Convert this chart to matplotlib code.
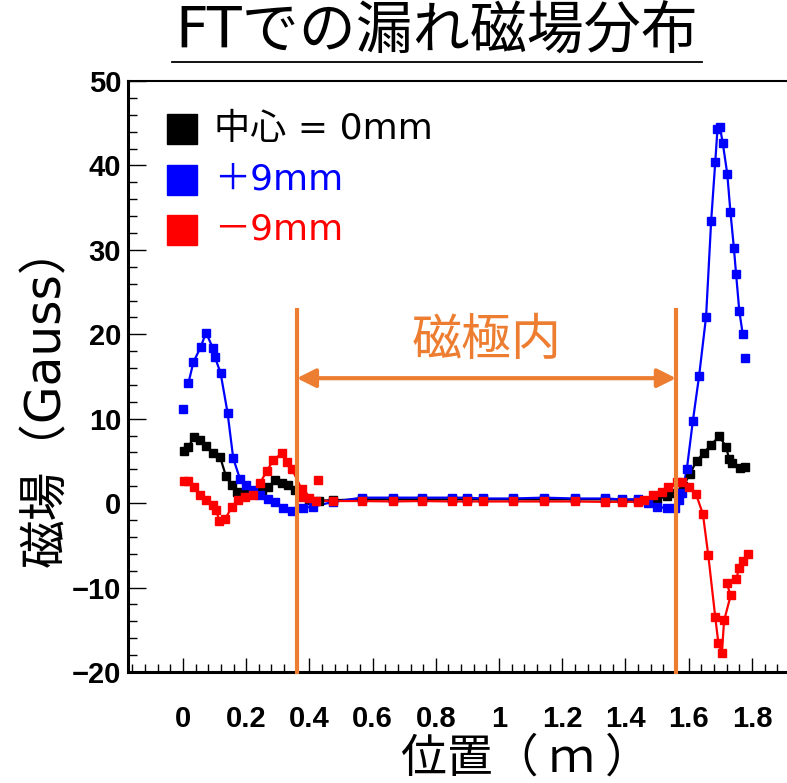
import matplotlib
matplotlib.use("Agg")
import matplotlib.pyplot as plt
from matplotlib.ticker import MultipleLocator, FixedLocator

plt.rcParams['font.family'] = ['Noto Sans CJK JP', 'DejaVu Sans']
WIDE = ['DejaVu Sans', 'Noto Sans CJK JP']

# measured field (Gauss) vs position (m)
center_x = [0.003, 0.017, 0.035, 0.054, 0.073, 0.094, 0.117, 0.136, 0.154, 0.170,
            0.190, 0.210, 0.230, 0.250, 0.270, 0.291, 0.312, 0.333, 0.354, 0.375,
            0.400, 0.430, 0.476, 0.565, 0.663, 0.755, 0.850, 0.898, 0.948, 1.043,
            1.142, 1.240, 1.336, 1.388, 1.439, 1.470, 1.500, 1.530, 1.555, 1.583,
            1.604, 1.625, 1.647, 1.670, 1.697, 1.718, 1.728, 1.736, 1.763, 1.778]
center_y = [6.2, 6.7, 7.8, 7.5, 6.8, 5.9, 5.5, 3.2, 2.1, 1.3,
            1.2, 1.2, 1.3, 1.5, 1.9, 2.7, 2.4, 2.1, 1.5, 0.8,
            0.4, 0.3, 0.35, 0.45, 0.45, 0.45, 0.45, 0.45, 0.45, 0.45,
            0.45, 0.45, 0.45, 0.4, 0.4, 0.3, 0.5, 0.8, 1.2, 2.0,
            3.5, 5.0, 5.9, 6.9, 7.9, 6.7, 5.2, 4.7, 4.2, 4.3]

plus_x = [0.017, 0.033, 0.056, 0.073, 0.094, 0.101, 0.119, 0.141, 0.159, 0.180,
          0.200, 0.222, 0.245, 0.270, 0.290, 0.317, 0.344, 0.380, 0.410, 0.476,
          0.565, 0.663, 0.755, 0.850, 0.898, 0.948, 1.043, 1.142, 1.240, 1.336,
          1.388, 1.439, 1.470, 1.500, 1.530, 1.556, 1.570, 1.578, 1.594, 1.613,
          1.633, 1.655, 1.671, 1.684, 1.691, 1.699, 1.708, 1.722, 1.732, 1.743,
          1.750, 1.760, 1.771]
plus_y = [14.2, 16.7, 18.5, 20.2, 18.4, 17.3, 15.4, 10.7, 5.3, 2.9,
          2.1, 1.5, 1.0, 0.5, 0.15, -0.6, -0.9, -0.6, -0.4, 0.15,
          0.65, 0.65, 0.65, 0.65, 0.65, 0.55, 0.55, 0.65, 0.55, 0.55,
          0.45, 0.45, 0.0, -0.4, -0.6, -0.6, 0.36, 1.15, 4.0, 9.7,
          15.1, 22.1, 33.4, 40.4, 44.3, 44.5, 42.6, 39.0, 34.5, 30.2,
          27.1, 22.8, 20.0]
plus_extra_x = [0.001, 1.778]
plus_extra_y = [11.2, 17.2]

minus_x = [0.003, 0.017, 0.035, 0.054, 0.073, 0.094, 0.105, 0.115, 0.133, 0.154,
           0.175, 0.196, 0.220, 0.244, 0.265, 0.286, 0.312, 0.328, 0.344, 0.375,
           0.380, 0.400, 0.420, 0.476, 0.565, 0.663, 0.755, 0.850, 0.898, 0.948,
           1.043, 1.142, 1.240, 1.336, 1.388, 1.439, 1.457, 1.488, 1.515, 1.536,
           1.562, 1.578, 1.600, 1.623, 1.645, 1.662, 1.684, 1.694, 1.705, 1.712,
           1.733, 1.720, 1.750, 1.760, 1.773, 1.789]
minus_y = [2.6, 2.6, 1.9, 0.95, 0.36, -0.24, -0.83, -2.1, -1.9, -0.5,
           0.36, 0.67, 0.95, 2.4, 3.8, 5.1, 5.9, 4.9, 4.1, 1.7,
           0.75, 0.55, 0.3, 0.25, 0.25, 0.2, 0.25, 0.2, 0.2, 0.2,
           0.2, 0.2, 0.2, 0.15, 0.15, 0.15, 0.36, 0.95, 1.3, 1.9,
           2.5, 2.5, 1.9, 1.07, -1.3, -6.2, -13.5, -16.6, -17.7, -13.9,
           -10.9, -9.5, -9.0, -7.7, -6.9, -6.0]
minus_extra_x = [0.428]
minus_extra_y = [2.8]

pole_edges = [0.36, 1.56]

legend_labels = ['中心 = 0mm', '＋9mm', '－9mm']
legend_colors = ['black', '#0000FF', '#FF0000']

x_ticks = [0, 0.2, 0.4, 0.6, 0.8, 1.0, 1.2, 1.4, 1.6, 1.8]
x_tick_labels = ['0', '0.2', '0.4', '0.6', '0.8', '1', '1.2', '1.4', '1.6', '1.8']
y_ticks = [-20, -10, 0, 10, 20, 30, 40, 50]
y_tick_labels = ['\u221220', '\u221210', '0', '10', '20', '30', '40', '50']

W, H = 787, 783
ORANGE = '#ED7D31'

fig = plt.figure(figsize=(W / 100, H / 100), dpi=100)
ax = fig.add_axes([128 / W, 1 - 672 / H, 1 - 128 / W, (672 - 81) / H])
ax.set_xlim(-0.174, 1.911)
ax.set_ylim(-20, 50)

series = [(center_x, center_y, 'black'),
          (plus_x, plus_y, '#0000FF'),
          (minus_x, minus_y, '#FF0000')]
for xs, ys, c in series:
    ax.plot(xs, ys, '-', color=c, lw=1.6, zorder=3)
    ax.plot(xs, ys, 's', color=c, ms=6, mec=c, zorder=4)
ax.plot(plus_extra_x, plus_extra_y, 's', color='#0000FF', ms=6, zorder=4)
ax.plot(minus_extra_x, minus_extra_y, 's', color='#FF0000', ms=6, zorder=4)

# pole region markers
for xe in pole_edges:
    ax.plot([xe, xe], [-20, 22.9], color=ORANGE, lw=3, zorder=5, clip_on=False)
ax.annotate('', xy=(pole_edges[0], 14.8), xytext=(pole_edges[1], 14.8),
            arrowprops=dict(arrowstyle='<|-|>', color=ORANGE, lw=3,
                            mutation_scale=28, shrinkA=0, shrinkB=0), zorder=5)
ax.text(sum(pole_edges) / 2, 19.2, '磁極内', color=ORANGE, fontsize=36,
        ha='center', va='center', zorder=5)

# axes styling
ax.spines['right'].set_visible(False)
ax.spines['left'].set_linewidth(2.2)
ax.spines['bottom'].set_linewidth(2.2)
ax.spines['top'].set_linewidth(1.5)

ax.xaxis.set_major_locator(FixedLocator(x_ticks))
ax.xaxis.set_minor_locator(MultipleLocator(0.04))
ax.set_xticklabels(x_tick_labels, family=['Liberation Sans Narrow', 'Liberation Sans'],
                   fontweight='bold', fontsize=21)
ax.yaxis.set_major_locator(FixedLocator(y_ticks))
ax.yaxis.set_minor_locator(MultipleLocator(2))
ax.set_yticklabels(y_tick_labels, family='Liberation Sans', fontweight='bold', fontsize=21)

ax.tick_params(axis='x', which='major', direction='in', length=10, width=1, pad=24, top=False)
ax.tick_params(axis='x', which='minor', direction='in', length=6, width=1, top=False)
ax.tick_params(axis='y', which='major', direction='in', length=13, width=1, pad=5, right=False)
ax.tick_params(axis='y', which='minor', direction='in', length=6.5, width=1, right=False)

# legend drawn by hand
for i, (lab, c) in enumerate(zip(legend_labels, legend_colors)):
    py = 129 + i * 50.5
    fig.patches.append(plt.Rectangle((167 / W, 1 - (py + 15) / H), 30 / W, 30 / H,
                                     transform=fig.transFigure, color=c, figure=fig))
    fig.text(214 / W, 1 - py / H, lab, color=c, fontsize=26, ha='left', va='center',
             family=WIDE)

# title with underline
fig.text(437 / W, 1 - 33 / H, 'FTでの漏れ磁場分布', fontsize=41, ha='center', va='center',
         family=WIDE)
fig.add_artist(plt.Line2D([172 / W, 702 / W], [1 - 62 / H, 1 - 62 / H], color='black', lw=1.3))

fig.text(46 / W, 1 - 395 / H, '磁場（Gauss）', fontsize=35, rotation=90,
         ha='center', va='center', family=WIDE)
fig.text(526 / W, 1 - 758 / H, '位置（ ｍ ）', fontsize=33, ha='center', va='center')

fig.savefig('out.png', dpi=100)
